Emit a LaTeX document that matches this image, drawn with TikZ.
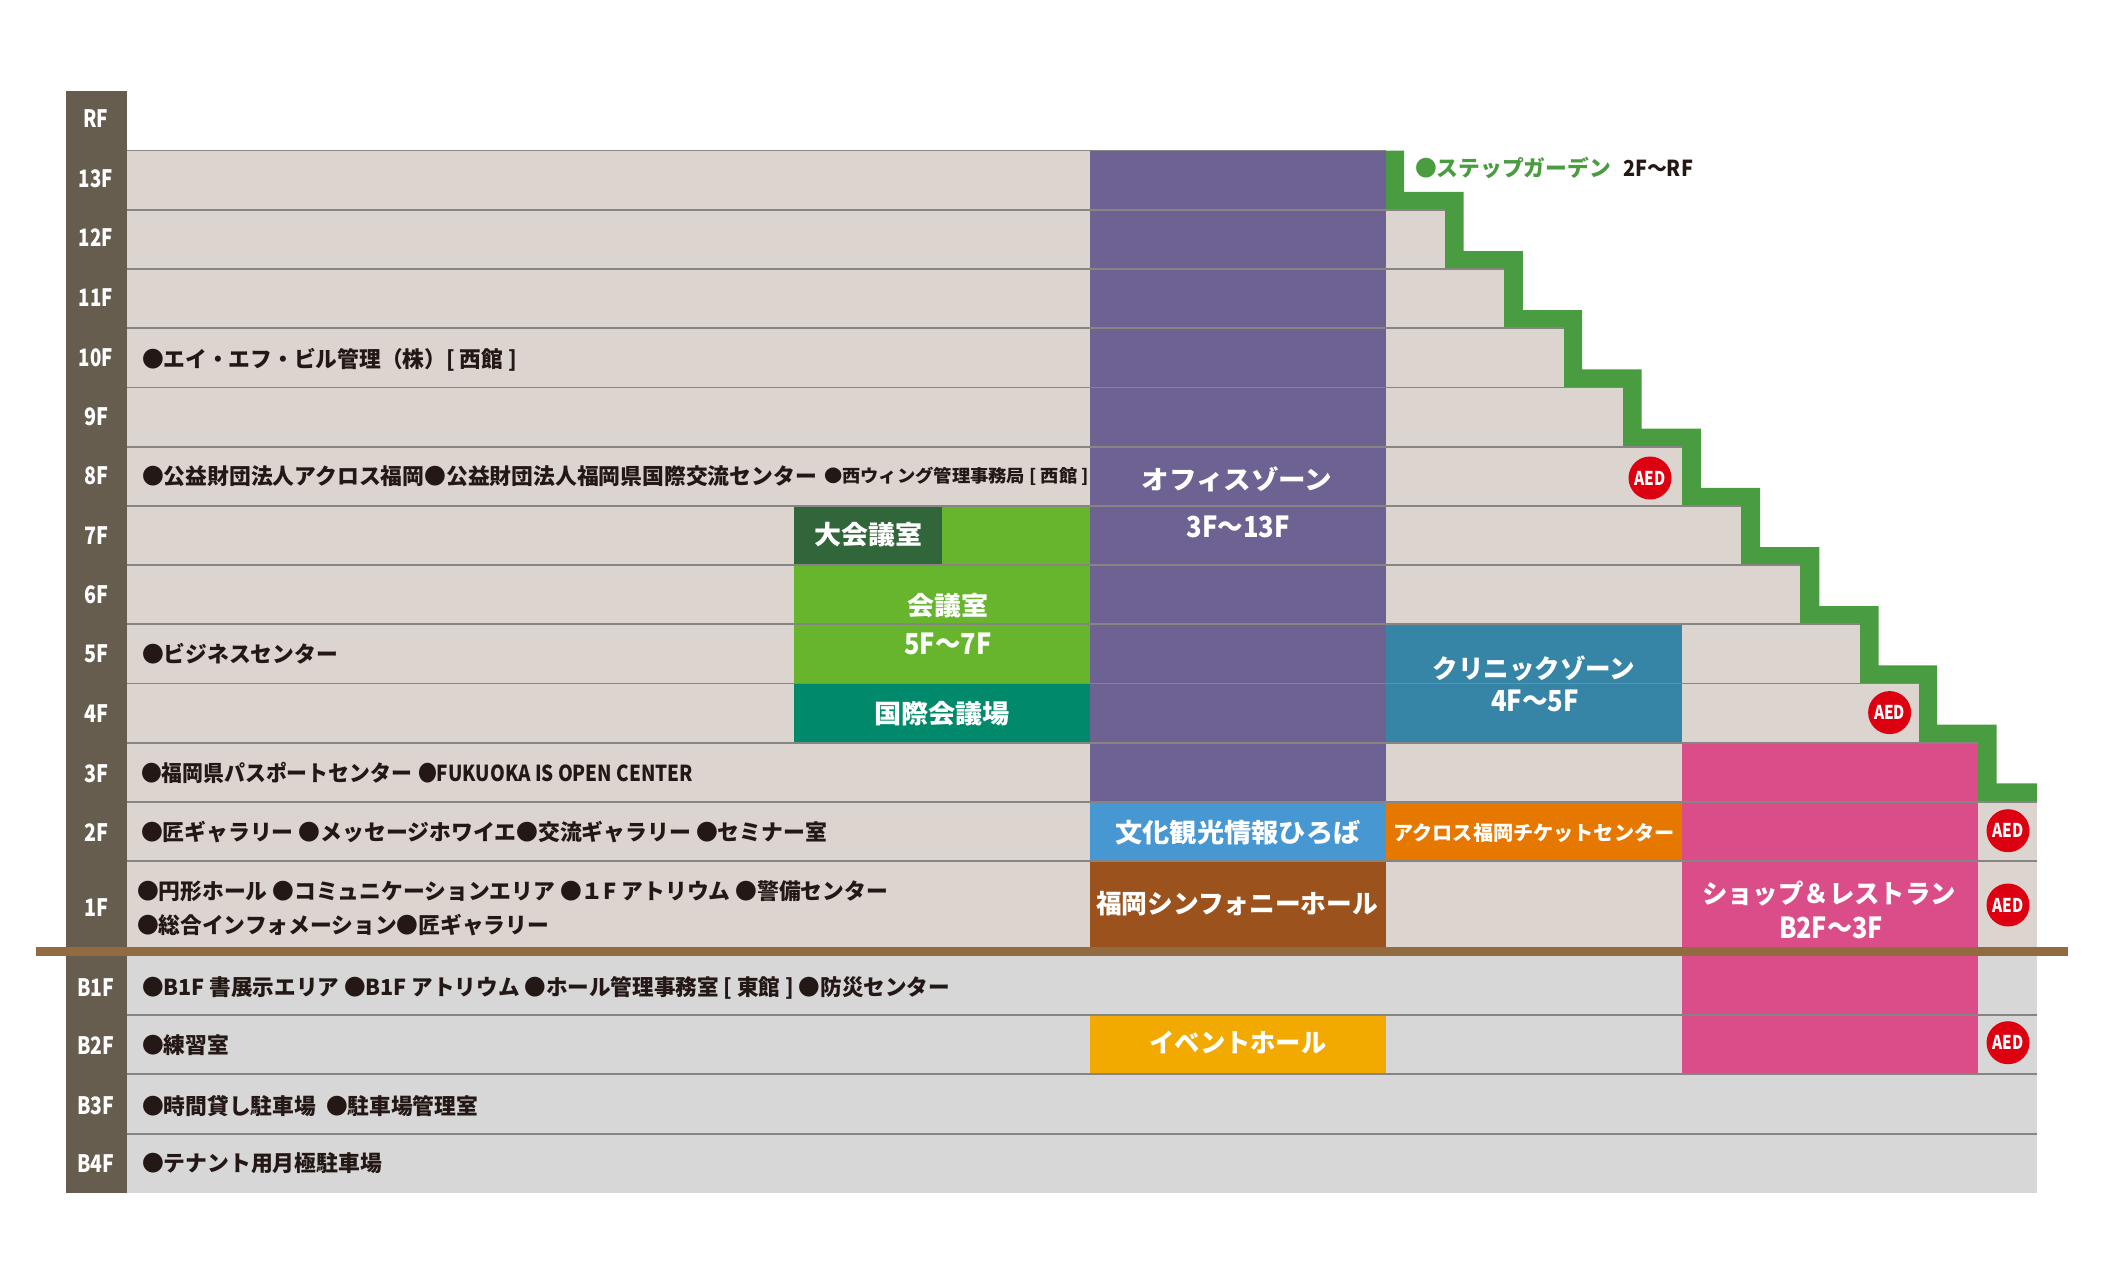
\documentclass[tikz,border=0pt]{standalone}
\usepackage{fontspec}
\usepackage{graphicx}
\setmainfont{Noto Sans CJK JP}
\definecolor{wallc}{HTML}{DCD5CF}
\definecolor{basec}{HTML}{D7D7D7}
\definecolor{postc}{HTML}{665D4F}
\definecolor{officec}{HTML}{6E6293}
\definecolor{lgreenc}{HTML}{67B42D}
\definecolor{dgreenc}{HTML}{31663A}
\definecolor{tealc}{HTML}{00896A}
\definecolor{clinicc}{HTML}{3785A6}
\definecolor{pinkc}{HTML}{DB4D89}
\definecolor{bluec}{HTML}{4697D2}
\definecolor{orangec}{HTML}{E67800}
\definecolor{brownc}{HTML}{9B521D}
\definecolor{yellowc}{HTML}{F2A900}
\definecolor{groundc}{HTML}{926B40}
\definecolor{gardenc}{HTML}{499C3F}
\definecolor{redc}{HTML}{DC0011}
\definecolor{inkc}{HTML}{231815}
\definecolor{rulec}{HTML}{868583}
\newcommand{\fitw}[2]{\resizebox{#1pt}{\height}{#2}}
\tikzset{
  x=1pt,y=-1pt,
  every node/.style={inner sep=0pt,outer sep=0pt},
  floorlab/.style={text=white,font=\fontsize{24}{24}\selectfont\bfseries,anchor=base},
  roomlab/.style={text=inkc,font=\fontsize{22}{22}\selectfont\bfseries,anchor=base west},
  roomsmall/.style={text=inkc,font=\fontsize{17.5}{18}\selectfont\bfseries,anchor=base west},
  zonelab/.style={text=white,font=\fontsize{26}{26}\selectfont\bfseries,anchor=base},
  zonelatin/.style={text=white,font=\fontsize{29}{29}\selectfont\bfseries,anchor=base},
  aed/.style={circle,fill=redc,minimum size=43pt,text=white,font=\fontsize{19}{19}\selectfont\bfseries},
  floorline/.style={draw=rulec,line width=1.8pt},
}
\begin{document}
\begin{tikzpicture}
\useasboundingbox (0,0) rectangle (2120,1284);
% garden
\fill[gardenc] (1386,150.6) -- (1404,150.6) -- (1404,191.8) -- (1463.6,191.8) -- (1463.6,251) -- (1522.9,251) -- (1522.9,310.2) -- (1582.2,310.2) -- (1582.2,369.4) -- (1641.5,369.4) -- (1641.5,428.6) -- (1700.8,428.6) -- (1700.8,487.8) -- (1760.1,487.8) -- (1760.1,547) -- (1819.4,547) -- (1819.4,606.2) -- (1878.7,606.2) -- (1878.7,665.4) -- (1937,665.4) -- (1937,724.6) -- (1996.5,724.6) -- (1996.5,783.4) -- (2037,783.4) -- (2037,801.8) -- (1386,801.8) -- cycle;
% wall
\fill[wallc] (127,150.6) rectangle (1386,947);
\fill[wallc] (1386,209.8) rectangle (1445.4,269);
\fill[wallc] (1386,269) rectangle (1504,328.2);
\fill[wallc] (1386,328.2) rectangle (1563.7,387.4);
\fill[wallc] (1386,387.4) rectangle (1622.5,446.6);
\fill[wallc] (1386,446.6) rectangle (1682,505.8);
\fill[wallc] (1386,505.8) rectangle (1741,565);
\fill[wallc] (1386,565) rectangle (1800,624.2);
\fill[wallc] (1386,624.2) rectangle (1860,683.4);
\fill[wallc] (1386,683.4) rectangle (1918.7,742.6);
\fill[wallc] (1386,742.6) rectangle (1978,801.8);
\fill[wallc] (1386,801.8) rectangle (2037,947);
\fill[basec] (127,956) rectangle (2037,1193);
% post
\fill[postc] (66,91.3) rectangle (127,1193);
% zones
\fill[officec] (1090,150.6) rectangle (1386,801.8);
\fill[lgreenc] (794,505.8) rectangle (1090,683.4);
\fill[dgreenc] (794,505.8) rectangle (942,565);
\fill[tealc] (794,683.4) rectangle (1090,742.6);
\fill[clinicc] (1386,624.2) rectangle (1682,742.6);
\fill[pinkc] (1682,742.6) rectangle (1978,1074.3);
\fill[bluec] (1090,801.8) rectangle (1386,861);
\fill[orangec] (1386,801.8) rectangle (1682,861);
\fill[brownc] (1090,861) rectangle (1386,947);
\fill[yellowc] (1090,1015) rectangle (1386,1074.3);
% floor lines
\foreach \yy/\xx in {150.6/1386,209.8/1445.4,269/1504,328.2/1563.7,387.4/1622.5,446.6/1682,505.8/1741,565/1800,624.2/1860,683.4/1918.7,742.6/1978,801.8/2037,861/2037,1015/2037,1074.3/2037,1133.7/2037}
  \draw[floorline] (127,\yy) -- (\xx,\yy);
% ground
\fill[groundc] (36,947) rectangle (2067.5,956);
% floor labels
\node[floorlab] (fR) at (96,128) {\fitw{25}{RF}};
\node[floorlab] (f13) at (96,188) {\fitw{34}{13F}};
\node[floorlab] (f12) at (96,247) {\fitw{34}{12F}};
\node[floorlab] (f11) at (96,306) {\fitw{34}{11F}};
\node[floorlab] (f10) at (96,366) {\fitw{34}{10F}};
\node[floorlab] (f9) at (96,425) {\fitw{24}{9F}};
\node[floorlab] (f8) at (96,484) {\fitw{24}{8F}};
\node[floorlab] (f7) at (96,544) {\fitw{24}{7F}};
\node[floorlab] (f6) at (96,603) {\fitw{24}{6F}};
\node[floorlab] (f5) at (96,662) {\fitw{24}{5F}};
\node[floorlab] (f4) at (96,722) {\fitw{24}{4F}};
\node[floorlab] (f3) at (96,782) {\fitw{24}{3F}};
\node[floorlab] (f2) at (96,841) {\fitw{24}{2F}};
\node[floorlab] (f1) at (96,916) {\fitw{24}{1F}};
\node[floorlab] (fB1) at (96,996) {\fitw{37}{B1F}};
\node[floorlab] (fB2) at (96,1054) {\fitw{37}{B2F}};
\node[floorlab] (fB3) at (96,1114) {\fitw{37}{B3F}};
\node[floorlab] (fB4) at (96,1172) {\fitw{37}{B4F}};
% room lists
\node[roomlab] (r10) at (142,367) {\fitw{375}{●エイ・エフ・ビル管理（株）[ 西館 ]}};
\node[roomlab] (r8a) at (142,484) {\fitw{675}{●公益財団法人アクロス福岡●公益財団法人福岡県国際交流センター}};
\node[roomsmall] (r8b) at (824,482) {\fitw{265}{●西ウィング管理事務局 [ 西館 ]}};
\node[roomlab] (r5) at (142,662) {\fitw{196}{●ビジネスセンター}};
\node[roomlab] (r3a) at (141,781) {\fitw{271}{●福岡県パスポートセンター}};
\node[roomlab] (r3b) at (418,781) {\fitw{275}{●FUKUOKA IS OPEN CENTER}};
\node[roomlab] (r2) at (141,840) {\fitw{686}{●匠ギャラリー ●メッセージホワイエ●交流ギャラリー ●セミナー室}};
\node[roomlab] (r1a) at (137,899.5) {\fitw{751}{●円形ホール ●コミュニケーションエリア ●１F アトリウム ●警備センター}};
\node[roomlab] (r1b) at (137,933) {\fitw{412}{●総合インフォメーション●匠ギャラリー}};
\node[roomlab] (rB1) at (142,995) {\fitw{808}{●B1F 書展示エリア ●B1F アトリウム ●ホール管理事務室 [ 東館 ] ●防災センター}};
\node[roomlab] (rB2) at (142,1053) {\fitw{87}{●練習室}};
\node[roomlab] (rB3a) at (142,1114) {\fitw{174}{●時間貸し駐車場}};
\node[roomlab] (rB3b) at (326,1114) {\fitw{152}{●駐車場管理室}};
\node[roomlab] (rB4) at (142,1171) {\fitw{240}{●テナント用月極駐車場}};
\node[roomlab,text=gardenc] (rG) at (1415,177) {\fitw{196}{●ステップガーデン}};
\node[roomlab] (rG2) at (1623,177) {\fitw{70}{2F〜RF}};
% zone labels
\node[zonelab] (zOff) at (1237,489) {\fitw{191}{オフィスゾーン}};
\node[zonelatin] (zOff2) at (1238,537) {\fitw{103}{3F〜13F}};
\node[zonelab] (zBig) at (868,544) {\fitw{108}{大会議室}};
\node[zonelab] (zMeet) at (948,615) {\fitw{81}{会議室}};
\node[zonelatin] (zMeet2) at (948,654) {\fitw{87}{5F〜7F}};
\node[zonelab] (zInt) at (942,723) {\fitw{136}{国際会議場}};
\node[zonelab] (zCli) at (1534,678) {\fitw{203}{クリニックゾーン}};
\node[zonelatin] (zCli2) at (1535,711) {\fitw{88}{4F〜5F}};
\node[zonelab] (zInfo) at (1238,842) {\fitw{245}{文化観光情報ひろば}};
\node[zonelab,font=\fontsize{20}{20}\selectfont\bfseries] (zTick) at (1534,840) {\fitw{281}{アクロス福岡チケットセンター}};
\node[zonelab] (zSym) at (1237,913.5) {\fitw{282}{福岡シンフォニーホール}};
\node[zonelab] (zShop) at (1829,903) {\fitw{254}{ショップ＆レストラン}};
\node[zonelatin] (zShop2) at (1831,938) {\fitw{104}{B2F〜3F}};
\node[zonelab] (zEv) at (1238,1052.5) {\fitw{177}{イベントホール}};
% AED
\node[aed] (a8) at (1650,478) {\fitw{31}{AED}};
\node[aed] (a4) at (1889.6,712.6) {\fitw{31}{AED}};
\node[aed] (a2) at (2008,830.7) {\fitw{31}{AED}};
\node[aed] (a1) at (2008,905) {\fitw{31}{AED}};
\node[aed] (aB2) at (2008,1042.7) {\fitw{31}{AED}};
\end{tikzpicture}
\end{document}
